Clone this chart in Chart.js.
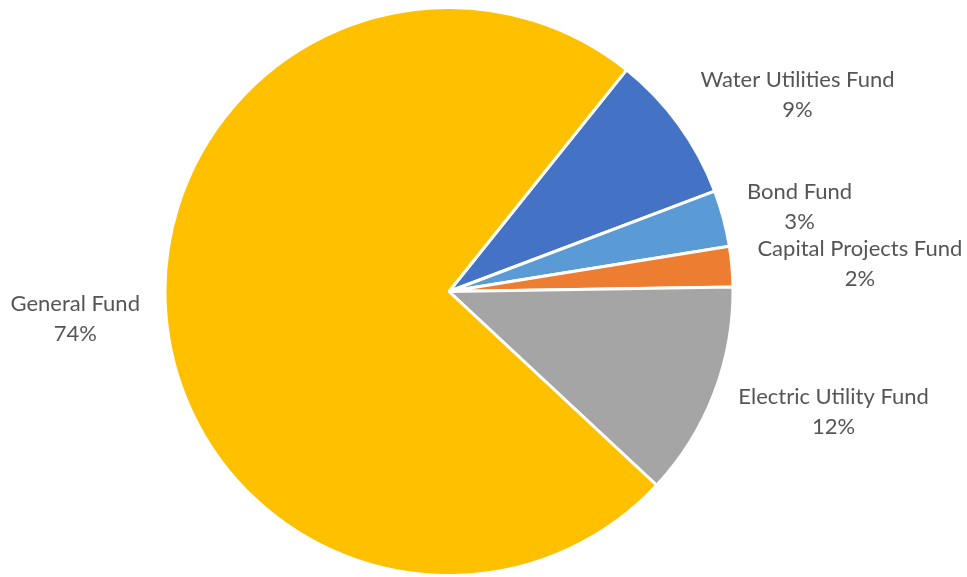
<!DOCTYPE html>
<html>
<head>
<meta charset="utf-8">
<script src="https://cdn.jsdelivr.net/npm/chart.js@4.4.1/dist/chart.umd.min.js"></script>
<style>
html,body{margin:0;padding:0;background:#fff;}
#wrap{width:967px;height:577px;position:relative;}
</style>
</head>
<body>
<div id="wrap"><canvas id="c" width="967" height="577"></canvas></div>
<script>
const categories = ["Water Utilities Fund", "Bond Fund", "Capital Projects Fund", "Electric Utility Fund", "General Fund"];
const shares = [8.5, 3.2, 2.3, 12.2, 73.8];
const percentLabels = ["9%", "3%", "2%", "12%", "74%"];
const colors = ["#4472C4", "#5B9BD5", "#ED7D31", "#A5A5A5", "#FFC000"];

// style-only tweaks for label placement (pixels)
const labelNudge = [[24, 0], [6, 2], [6, 2], [12, 0], [-6, 3]];

const labelPlugin = {
  id: 'outLabels',
  afterDatasetsDraw(chart) {
    const ctx = chart.ctx;
    const meta = chart.getDatasetMeta(0);
    ctx.save();
    ctx.font = '22px Lato, "Open Sans", sans-serif';
    ctx.fillStyle = '#555555';
    ctx.textAlign = 'center';
    ctx.textBaseline = 'middle';
    const lh = 30;
    meta.data.forEach((arc, i) => {
      const p = arc.getProps(['x', 'y', 'startAngle', 'endAngle', 'outerRadius'], true);
      const mid = (p.startAngle + p.endAngle) / 2;
      const dx = Math.cos(mid), dy = Math.sin(mid);
      const r = p.outerRadius + 20;
      const ax = p.x + dx * r, ay = p.y + dy * r;
      const w = Math.max(ctx.measureText(categories[i]).width, ctx.measureText(percentLabels[i]).width);
      const h = lh * 2;
      const cx = ax + dx * w / 2 + labelNudge[i][0];
      const cy = ay + dy * h / 2 + labelNudge[i][1];
      ctx.fillText(categories[i], cx, cy - lh / 2);
      ctx.fillText(percentLabels[i], cx, cy + lh / 2);
    });
    ctx.restore();
  }
};

new Chart(document.getElementById('c'), {
  type: 'pie',
  data: {
    labels: categories,
    datasets: [{
      data: shares,
      backgroundColor: colors,
      borderColor: '#ffffff',
      borderWidth: 3
    }]
  },
  options: {
    responsive: false,
    animation: false,
    rotation: 38.7,
    layout: { padding: { left: 163, right: 232, top: 6, bottom: 0 } },
    plugins: {
      legend: { display: false },
      tooltip: { enabled: false }
    }
  },
  plugins: [labelPlugin]
});
</script>
</body>
</html>
